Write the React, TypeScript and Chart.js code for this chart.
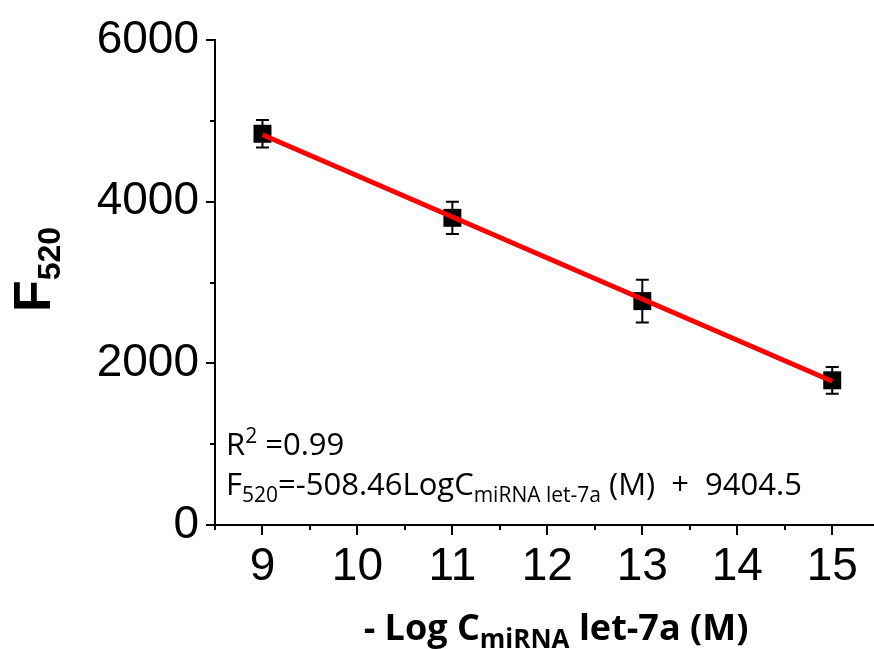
import React, { useEffect, useRef } from "react";
import { Chart, registerables } from "chart.js";

Chart.register(...registerables);

// ---- data ----
const concentrations = [9, 11, 13, 15];
const f520Means = [4840, 3800, 2770, 1790];
const f520Errors = [170, 200, 265, 165];
const fitX = [9, 15];
const fitY = [4828, 1778];
const xMajorTicks = [9, 10, 11, 12, 13, 14, 15];
const xMinorTicks = [8.5, 9.5, 10.5, 11.5, 12.5, 13.5, 14.5];
const yMajorTicks = [0, 2000, 4000, 6000];
const yMinorTicks = [1000, 3000, 5000];
const xRange = [8.5, 15.44];
const yRange = [0, 6000];

// ---- text ----
const yTitleParts = ["F", "520"];
const xTitleParts = ["- Log C", "miRNA", " let-7a (M)"];
const r2Parts = ["R", "2", " =0.99"];
const eqParts = ["F", "520", "=-508.46LogC", "miRNA let-7a", " (M)  +  9404.5"];

const ARIAL = '"Liberation Sans", Arial, sans-serif';
const GOTHIC = '"Open Sans", "Noto Sans", sans-serif';

type Seg = { text: string; font: string; dy: number };

function measureSegs(ctx: CanvasRenderingContext2D, segs: Seg[]) {
  let w = 0;
  for (const s of segs) {
    ctx.font = s.font;
    w += ctx.measureText(s.text).width;
  }
  return w;
}

function drawSegs(ctx: CanvasRenderingContext2D, segs: Seg[], x: number, y: number) {
  let cx = x;
  for (const s of segs) {
    ctx.font = s.font;
    ctx.fillText(s.text, cx, y + s.dy);
    cx += ctx.measureText(s.text).width;
  }
}

const decorPlugin = {
  id: "decor",
  beforeDatasetsDraw(chart: any) {
    const ctx: CanvasRenderingContext2D = chart.ctx;
    const xs = chart.scales.x;
    const ys = chart.scales.y;
    ctx.save();
    ctx.strokeStyle = "#000";
    ctx.lineWidth = 2;
    concentrations.forEach((c, i) => {
      const px = xs.getPixelForValue(c);
      const top = ys.getPixelForValue(f520Means[i] + f520Errors[i]);
      const bot = ys.getPixelForValue(f520Means[i] - f520Errors[i]);
      ctx.beginPath();
      ctx.moveTo(px, top);
      ctx.lineTo(px, bot);
      ctx.moveTo(px - 6.5, top);
      ctx.lineTo(px + 6.5, top);
      ctx.moveTo(px - 6.5, bot);
      ctx.lineTo(px + 6.5, bot);
      ctx.stroke();
    });
    ctx.restore();
  },
  afterDraw(chart: any) {
    const ctx: CanvasRenderingContext2D = chart.ctx;
    const xs = chart.scales.x;
    const ys = chart.scales.y;
    const area = chart.chartArea;
    ctx.save();
    ctx.strokeStyle = "#000";
    ctx.lineWidth = 2;
    ctx.beginPath();
    yMajorTicks.forEach((v) => {
      const py = Math.round(ys.getPixelForValue(v));
      ctx.moveTo(area.left - 9, py);
      ctx.lineTo(area.left, py);
    });
    yMinorTicks.forEach((v) => {
      const py = Math.round(ys.getPixelForValue(v));
      ctx.moveTo(area.left - 5, py);
      ctx.lineTo(area.left, py);
    });
    xMajorTicks.forEach((v) => {
      const px = Math.round(xs.getPixelForValue(v));
      ctx.moveTo(px, area.bottom);
      ctx.lineTo(px, area.bottom + 10);
    });
    xMinorTicks.forEach((v) => {
      const px = Math.round(xs.getPixelForValue(v));
      ctx.moveTo(px, area.bottom);
      ctx.lineTo(px, area.bottom + 5);
    });
    ctx.stroke();

    ctx.fillStyle = "#000";
    ctx.textBaseline = "alphabetic";
    ctx.textAlign = "left";

    // y title (rotated)
    ctx.save();
    ctx.translate(50, 312);
    ctx.rotate(-Math.PI / 2);
    drawSegs(
      ctx,
      [
        { text: yTitleParts[0], font: `bold 52px ${ARIAL}`, dy: 0 },
        { text: yTitleParts[1], font: `bold 32px ${ARIAL}`, dy: 10 },
      ],
      0,
      0
    );
    ctx.restore();

    // annotation
    const big = `31px ${GOTHIC}`;
    const small = `21px ${GOTHIC}`;
    drawSegs(
      ctx,
      [
        { text: r2Parts[0], font: big, dy: 0 },
        { text: r2Parts[1], font: small, dy: -12 },
        { text: r2Parts[2], font: big, dy: 0 },
      ],
      226,
      455
    );
    drawSegs(
      ctx,
      [
        { text: eqParts[0], font: big, dy: 0 },
        { text: eqParts[1], font: small, dy: 7 },
        { text: eqParts[2], font: big, dy: 0 },
        { text: eqParts[3], font: small, dy: 7 },
        { text: eqParts[4], font: big, dy: 0 },
      ],
      226,
      495
    );

    // x title
    const xSegs: Seg[] = [
      { text: xTitleParts[0], font: `bold 36px ${GOTHIC}`, dy: 0 },
      { text: xTitleParts[1], font: `bold 26px ${GOTHIC}`, dy: 8 },
      { text: xTitleParts[2], font: `bold 36px ${GOTHIC}`, dy: 0 },
    ];
    const w = measureSegs(ctx, xSegs);
    drawSegs(ctx, xSegs, 556 - w / 2, 640);
    ctx.restore();
  },
};

export default function App() {
  const ref = useRef<HTMLCanvasElement | null>(null);

  useEffect(() => {
    if (!ref.current) return;
    const chart = new Chart(ref.current, {
      type: "scatter",
      data: {
        datasets: [
          {
            type: "line",
            label: "fit",
            data: fitX.map((x, i) => ({ x, y: fitY[i] })),
            borderColor: "#ff0000",
            borderWidth: 5,
            pointRadius: 0,
            fill: false,
            order: 0,
          } as any,
          {
            label: "F520",
            data: concentrations.map((x, i) => ({ x, y: f520Means[i] })),
            pointStyle: "rect",
            pointRadius: 12.7,
            pointHoverRadius: 12.7,
            backgroundColor: "#000",
            borderColor: "#000",
            borderWidth: 0,
            order: 1,
          },
        ],
      },
      options: {
        responsive: false,
        animation: false,
        events: [],
        layout: { autoPadding: false, padding: { top: 40, left: 0, right: 0, bottom: 0 } },
        plugins: {
          legend: { display: false },
          tooltip: { enabled: false },
          title: { display: false },
        },
        scales: {
          x: {
            type: "linear",
            min: xRange[0],
            max: xRange[1],
            grid: { display: false, drawTicks: false },
            border: { display: true, color: "#000", width: 2 },
            ticks: {
              color: "#000",
              padding: 15,
              font: { family: ARIAL, size: 46 },
              maxRotation: 0,
              autoSkip: false,
              callback: (v: any) => String(v),
            },
            afterBuildTicks: (scale: any) => {
              scale.ticks = xMajorTicks.map((v) => ({ value: v }));
            },
            afterFit: (scale: any) => {
              scale.height = 124;
              scale.paddingLeft = 0;
              scale.paddingRight = 0;
            },
          },
          y: {
            type: "linear",
            min: yRange[0],
            max: yRange[1],
            grid: { display: false, drawTicks: false },
            border: { display: true, color: "#000", width: 2 },
            ticks: {
              color: "#000",
              padding: 16,
              font: { family: ARIAL, size: 46 },
              autoSkip: false,
              callback: (v: any) => String(v),
            },
            afterBuildTicks: (scale: any) => {
              scale.ticks = yMajorTicks.map((v) => ({ value: v }));
            },
            afterFit: (scale: any) => {
              scale.width = 215;
              scale.paddingTop = 0;
              scale.paddingBottom = 0;
            },
          },
        },
      },
      plugins: [decorPlugin],
    });
    return () => chart.destroy();
  }, []);

  return (
    <div style={{ position: "absolute", left: 0, top: 0, width: 874, height: 649, background: "#fff" }}>
      <canvas ref={ref} width={874} height={649} style={{ display: "block" }} />
    </div>
  );
}
